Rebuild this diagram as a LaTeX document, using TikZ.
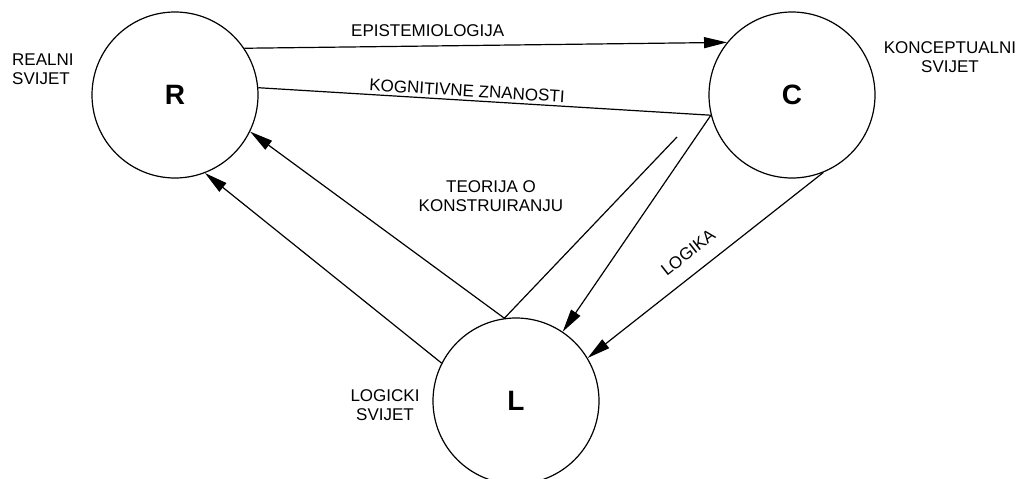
\documentclass[tikz,border=0pt]{standalone}
\usepackage{fontspec}
\setmainfont{Liberation Sans}
\usetikzlibrary{arrows.meta}

\begin{document}
\begin{tikzpicture}[x=1pt,y=-1pt,
  world/.style={draw,circle,line width=1.2pt,minimum size=166pt,inner sep=0pt,
    font=\fontsize{28}{30}\selectfont\bfseries},
  link/.style={line width=1.2pt},
  arr/.style={link,-{Triangle[length=23pt,width=11pt]}},
  lbl/.style={inner sep=2pt,font=\fontsize{17}{19.5}\selectfont}]
  \useasboundingbox (0,0) rectangle (1029,479);

  % the three worlds
  \node[world] (R) at (175,95) {R};
  \node[world] (C) at (792,95) {C};
  \node[world] (L) at (516,401) {L};

  \node[lbl,align=left,anchor=west] (Rname) at (10,69) {REALNI\\SVIJET};
  \node[lbl,align=center] (Cname) at (950,57) {KONCEPTUALNI\\SVIJET};
  \node[lbl,align=center] (Lname) at (385,405) {LOGICKI\\SVIJET};
  \node[lbl,align=center] (teo) at (491,196) {TEORIJA O\\KONSTRUIRANJU};

  % connections
  \draw[arr] (R.34) -- node[lbl,above=7pt,pos=0.38] {EPISTEMIOLOGIJA} (C.141);
  \draw[link] (R.5) -- node[lbl,above=1pt,sloped,pos=0.46] {KOGNITIVNE ZNANOSTI} (C.194);
  \draw[arr] (C.194) -- (L.56);

  \coordinate (teoend) at (677,137);
  \draw[arr] (teoend) -- (L.98) -- (R.-26);
  \draw[arr] (L.153) -- (R.-69);

  \draw[arr] (C.-68) -- node[lbl,above=12pt,sloped,pos=0.52] {LOGIKA} (L.31);
\end{tikzpicture}
\end{document}
